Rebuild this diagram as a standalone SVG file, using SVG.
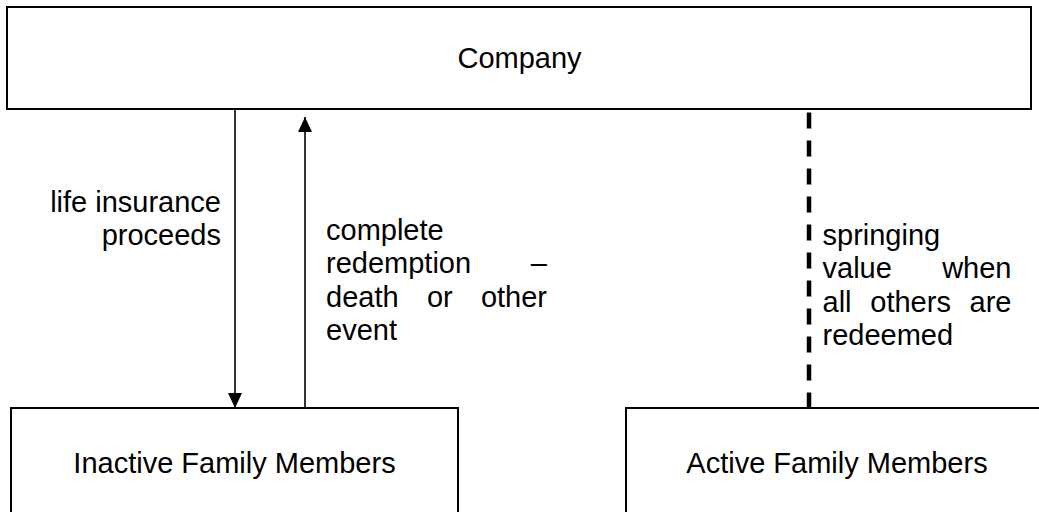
<svg xmlns="http://www.w3.org/2000/svg" width="1039" height="512" viewBox="0 0 1039 512">
  <style>
    .box { fill: #ffffff; stroke: #000000; stroke-width: 2; }
    .txt { font-family: "Liberation Sans", Arial, sans-serif; font-size: 29px; fill: #000000; }
    .mid { text-anchor: middle; }
    .end { text-anchor: end; }
    .arrow { stroke: #000000; stroke-width: 1.6; fill: none; }
    .dash { stroke: #000000; stroke-width: 4.5; fill: none; stroke-dasharray: 16 12; }
  </style>
  <defs>
    <marker id="head" markerUnits="userSpaceOnUse" markerWidth="15" markerHeight="14" refX="15" refY="7" orient="auto">
      <path d="M0,0 L15,7 L0,14 Z" fill="#000000"/>
    </marker>
  </defs>
  <rect x="0" y="0" width="1039" height="512" fill="#ffffff"/>

  <g id="company">
    <rect class="box" x="7" y="7" width="1024" height="102"/>
    <text class="txt mid" x="519.5" y="68">Company</text>
  </g>

  <g id="inactive">
    <rect class="box" x="11" y="408" width="447" height="120"/>
    <text class="txt mid" x="234.5" y="473">Inactive Family Members</text>
  </g>

  <g id="active">
    <rect class="box" x="626" y="408" width="430" height="120"/>
    <text class="txt mid" x="837" y="473">Active Family Members</text>
  </g>

  <g id="connectors">
    <g id="proceeds">
      <line class="arrow" x1="235" y1="110" x2="235" y2="408" marker-end="url(#head)"/>
      <text class="txt end" x="221" y="212">life insurance</text>
      <text class="txt end" x="221" y="245.3">proceeds</text>
    </g>
    <g id="redemption">
      <line class="arrow" x1="305" y1="408" x2="305" y2="117" marker-end="url(#head)"/>
      <text class="txt" x="326" y="240">complete</text>
      <text class="txt" x="326" y="273.3">redemption</text>
      <text class="txt end" x="547" y="273.3">–</text>
      <text class="txt" x="326" y="306.7">death</text>
      <text class="txt" x="426.9" y="306.7">or</text>
      <text class="txt end" x="547" y="306.7">other</text>
      <text class="txt" x="326" y="340">event</text>
    </g>
    <g id="springing">
      <line class="dash" x1="809" y1="112.5" x2="809" y2="408"/>
      <text class="txt" x="822.5" y="245">springing</text>
      <text class="txt" x="822.5" y="278.3">value</text>
      <text class="txt end" x="1011.5" y="278.3">when</text>
      <text class="txt" x="822.5" y="311.7">all</text>
      <text class="txt" x="870.3" y="311.7">others</text>
      <text class="txt end" x="1011.5" y="311.7">are</text>
      <text class="txt" x="822.5" y="345">redeemed</text>
    </g>
  </g>
</svg>
